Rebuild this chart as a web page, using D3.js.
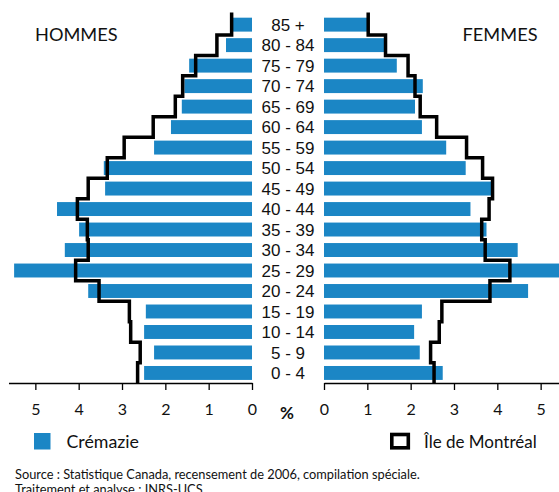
<!DOCTYPE html>
<html><head><meta charset="utf-8">
<script src="https://cdn.jsdelivr.net/npm/d3@7"></script>
<style>
html,body{margin:0;padding:0;background:#fff;}
svg{display:block;}
</style></head>
<body>
<svg id="c" width="559" height="492"></svg>
<script>
const ageGroups = ["85 +","80 - 84","75 - 79","70 - 74","65 - 69","60 - 64","55 - 59","50 - 54","45 - 49","40 - 44","35 - 39","30 - 34","25 - 29","20 - 24","15 - 19","10 - 14","5 - 9","0 - 4"];
const cremazieHommes = [0.45,0.60,1.45,1.56,1.62,1.87,2.26,3.42,3.39,4.50,3.99,4.32,5.49,3.78,2.45,2.49,2.26,2.49];
const cremazieFemmes = [1.00,1.40,1.68,2.28,2.10,2.26,2.82,3.27,3.88,3.38,3.75,4.47,5.50,4.71,2.26,2.08,2.21,2.74];
const montrealHommes = [0.47,0.81,1.30,1.60,1.77,2.28,2.95,3.34,3.78,4.03,3.80,3.78,4.07,3.53,2.83,2.80,2.58,2.64];
const montrealFemmes = [1.02,1.42,1.94,2.10,2.22,2.60,3.29,3.66,3.89,3.81,3.64,3.72,4.29,3.83,2.72,2.66,2.46,2.54];
const tickValues = [0,1,2,3,4,5];
const sexLabels = ["HOMMES","FEMMES"];
const legendLabels = ["Crémazie","Île de Montréal"];
const sourceLines = ["Source : Statistique Canada, recensement de 2006, compilation spéciale.","Traitement et analyse : INRS-UCS"];

const svg = d3.select("#c");
const blue = "#1b86c5";
const unit = 43.33;
const xL = d3.scaleLinear().domain([0, 5.62]).range([252, 252 - 5.62*unit]);
const xR = d3.scaleLinear().domain([0, 5.45]).range([324, 324 + 5.45*unit]);
const y = d3.scaleBand().domain(ageGroups).range([14.4, 383.2]).paddingInner(0.32).paddingOuter(0.16);
const step = y.step();
const axisY = 383;

// bars
svg.append("g").selectAll("rect").data(ageGroups).join("rect")
  .attr("x", (d,i) => xL(cremazieHommes[i])).attr("y", d => y(d))
  .attr("width", (d,i) => xL(0) - xL(cremazieHommes[i])).attr("height", y.bandwidth())
  .attr("fill", blue);
svg.append("g").selectAll("rect").data(ageGroups).join("rect")
  .attr("x", xR(0)).attr("y", d => y(d))
  .attr("width", (d,i) => xR(cremazieFemmes[i]) - xR(0)).attr("height", y.bandwidth())
  .attr("fill", blue);

// step lines
function stepPts(vals, sc) {
  const pts = [];
  ageGroups.forEach((d,i) => {
    const c = y(d) + y.bandwidth()/2;
    pts.push([sc(vals[i]), c - step/2]);
    pts.push([sc(vals[i]), c + step/2]);
  });
  pts[0][1] = 12.5;
  pts[pts.length-1][1] = axisY;
  return pts;
}
const line = d3.line();
[[montrealHommes,xL],[montrealFemmes,xR]].forEach(([v,s]) => {
  svg.append("path").attr("d", line(stepPts(v,s)))
    .attr("fill","none").attr("stroke","#000").attr("stroke-width",3.5)
    .attr("stroke-linejoin","miter").attr("stroke-linecap","butt");
});

// age labels
svg.append("g").selectAll("text").data(ageGroups).join("text")
  .attr("x", 288).attr("y", d => y(d) + y.bandwidth()/2).attr("dy","0.36em")
  .attr("text-anchor","middle").attr("font-family","Liberation Sans, Arial, sans-serif")
  .attr("font-size",17).attr("fill","#111").text(d => d);

// axes
const axL = d3.axisBottom(xL).tickValues(tickValues).tickSize(7).tickSizeOuter(0).tickPadding(14).tickFormat(d3.format("d"));
const axR = d3.axisBottom(xR).tickValues(tickValues).tickSize(7).tickSizeOuter(0).tickPadding(14).tickFormat(d3.format("d"));
[axL, axR].forEach(ax => {
  const g = svg.append("g").attr("transform", `translate(0,${axisY})`).call(ax);
  g.select(".domain").attr("stroke","#000").attr("stroke-width",1.6);
  g.selectAll(".tick line").attr("stroke","#000").attr("stroke-width",1.3);
  g.selectAll(".tick text").attr("font-family","Lato, sans-serif").attr("font-size",16).attr("fill","#111");
});
svg.append("text").attr("x",287).attr("y",419).attr("text-anchor","middle")
  .attr("font-family","Lato, sans-serif").attr("font-weight","bold").attr("font-size",17).attr("fill","#111").text("%");

// titles
svg.append("text").attr("x",35).attr("y",40.5).attr("font-family","Lato, sans-serif").attr("font-size",18.2).attr("fill","#111").text(sexLabels[0]);
svg.append("text").attr("x",537.5).attr("y",40.5).attr("text-anchor","end").attr("font-family","Lato, sans-serif").attr("font-size",18.2).attr("fill","#111").text(sexLabels[1]);

// legend
svg.append("rect").attr("x",34).attr("y",433).attr("width",16.5).attr("height",16.5).attr("fill",blue);
svg.append("text").attr("x",66.5).attr("y",448).attr("font-family","Lato, sans-serif").attr("font-size",17.8).attr("fill","#111").text(legendLabels[0]);
svg.append("rect").attr("x",391.8).attr("y",434.5).attr("width",16.5).attr("height",13.3).attr("fill","none").attr("stroke","#000").attr("stroke-width",3.6);
svg.append("text").attr("x",424).attr("y",448).attr("font-family","Lato, sans-serif").attr("font-size",17).attr("fill","#111").text(legendLabels[1]);

// source
svg.append("g").selectAll("text").data(sourceLines).join("text")
  .attr("x",15).attr("y",(d,i) => 478.7 + i*15.3)
  .attr("font-family","Lato, sans-serif").attr("font-size",12.8).attr("fill","#111").text(d => d);
</script>
</body></html>
